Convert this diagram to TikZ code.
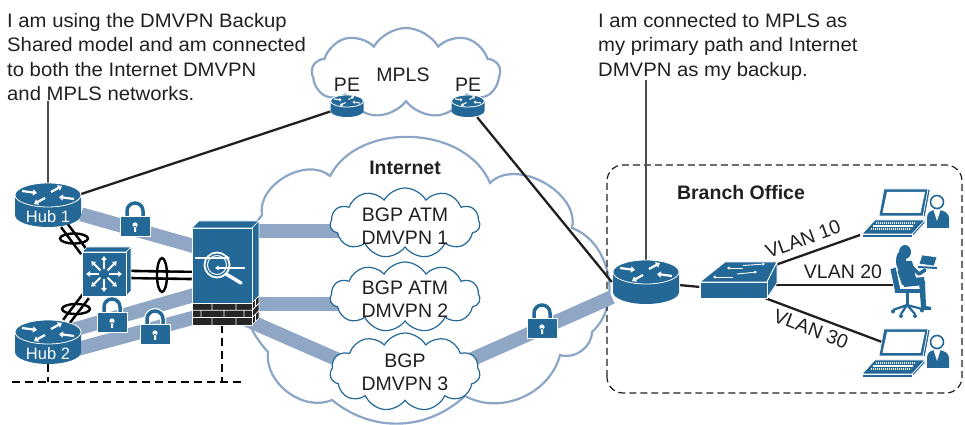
\documentclass[tikz,border=0pt]{standalone}
\usepackage{fontspec}
\setmainfont{Liberation Sans}
\newfontfamily\notefont[FakeStretch=1.04]{Liberation Sans}
\usetikzlibrary{shapes.symbols,arrows.meta,calc}
\definecolor{ciscoblue}{RGB}{35,104,150}
\definecolor{tunnelblue}{RGB}{143,167,197}
\definecolor{cloudedge}{RGB}{139,166,198}
\definecolor{inkgray}{RGB}{35,31,32}

\tikzset{
  dev/.style 2 args={inner sep=0pt,minimum width=#1pt,minimum height=#2pt},
  rarrow/.style={white,line width=2.2pt,-{Triangle[length=4pt,width=6pt]}},
  router/.pic={
    \fill[ciscoblue] (-33,10) -- (-33,-10) arc[start angle=180,end angle=360,x radius=33,y radius=12] -- (33,10) -- cycle;
    \filldraw[fill=ciscoblue,draw=white,line width=.8pt] (0,10) ellipse[x radius=33,y radius=12];
    \draw[rarrow] (-26,14) -- (-11,12);
    \draw[rarrow] (26,6) -- (11,8);
    \draw[rarrow] (3,13) -- (14,19);
    \draw[rarrow] (-3,7) -- (-14,1);
  },
  l3switch/.pic={
    \filldraw[fill=ciscoblue,draw=white,line width=.7pt] (-22,22) -- (-17,27) -- (27,27) -- (22,22) -- cycle;
    \filldraw[fill=ciscoblue,draw=white,line width=.7pt] (22,22) -- (27,27) -- (27,-17) -- (22,-22) -- cycle;
    \filldraw[fill=ciscoblue,draw=white,line width=.7pt] (-22,-22) rectangle (22,22);
    \foreach \a in {0,45,...,315}
      \draw[white,line width=2pt,-{Triangle[length=4pt,width=5.5pt]}] (\a:5) -- (\a:18);
  },
  ips/.pic={
    \filldraw[fill=ciscoblue,draw=white,line width=.7pt] (-30,48) -- (-23,55) -- (37,55) -- (30,48) -- cycle;
    \filldraw[fill=ciscoblue,draw=white,line width=.7pt] (30,48) -- (37,55) -- (37,-20) -- (30,-27) -- cycle;
    \filldraw[fill=black!85,draw=white,line width=.7pt] (30,-27) -- (37,-20) -- (37,-42) -- (30,-49) -- cycle;
    \filldraw[fill=ciscoblue,draw=white,line width=.7pt] (-30,-27) rectangle (30,48);
    \filldraw[fill=black!85,draw=white,line width=.7pt] (-30,-49) rectangle (30,-27);
    \draw[white,line width=.8pt] (-30,-34.3) -- (30,-34.3) (-30,-41.6) -- (30,-41.6)
      (-10,-27) -- (-10,-34.3) (14,-27) -- (14,-34.3)
      (-21,-34.3) -- (-21,-41.6) (2,-34.3) -- (2,-41.6) (22,-34.3) -- (22,-41.6)
      (-10,-41.6) -- (-10,-49) (14,-41.6) -- (14,-49)
      (30,-34.3) -- (37,-27.3) (30,-41.6) -- (37,-34.6)
      (33.5,-23.5) -- (33.5,-30.8) (33.5,-38.1) -- (33.5,-45.4);
    \draw[white,line width=1.4pt,-{Triangle[length=3.5pt,width=4.5pt]}] (-27,18) -- (8,18);
    \draw[white,line width=1.4pt,-{Triangle[length=3.5pt,width=4.5pt]}] (23,8) -- (-7,8);
    \draw[white,line width=3.5pt,line cap=round] (4,2) -- (19,-7);
    \draw[white,line width=1.8pt] (-5,11) circle[radius=12.5];
    \draw[white,line width=1pt] (-5,11) circle[radius=9.5];
  },
  lanswitch/.pic={
    \filldraw[fill=ciscoblue,draw=white,line width=.7pt] (-33,8) -- (-8,28) -- (44,28) -- (34,8) -- cycle;
    \filldraw[fill=ciscoblue,draw=white,line width=.7pt] (34,8) -- (44,28) -- (44,7) -- (34,-8) -- cycle;
    \filldraw[fill=ciscoblue,draw=white,line width=.7pt] (-33,-8) rectangle (34,8);
    \begin{scope}[white,line width=.9pt,-{Triangle[length=2.5pt,width=3pt]}]
      \draw (10,22) -- (-6,22);
      \draw (10,24.5) -- (32,26);
      \draw (0,13) -- (-20,13);
      \draw (4,16) -- (24,18);
    \end{scope}
  },
  padlock/.pic={
    \draw[white,line width=6pt] (-8,9) -- (-8,16) arc[start angle=180,end angle=0,radius=8] -- (8,9);
    \draw[ciscoblue,line width=3.5pt] (-8,9) -- (-8,16) arc[start angle=180,end angle=0,radius=8] -- (8,9);
    \filldraw[fill=ciscoblue,draw=white,line width=1pt] (-15,-10) rectangle (15,10);
    \fill[white] (0,2) circle[radius=2.6] (-1,-5) rectangle (1,1);
  },
  laptop/.pic={
    \filldraw[fill=ciscoblue,draw=white,line width=.6pt] (28,28) -- (30,27) -- (25,0) -- (23,1) -- cycle;
    \filldraw[fill=ciscoblue,draw=white,line width=.6pt] (-16,28) -- (28,28) -- (23,1) -- (-21,1) -- cycle;
    \fill[white] (-13,25) -- (25,25) -- (20.5,4) -- (-17.5,4) -- cycle;
    \filldraw[fill=ciscoblue,draw=white,line width=.6pt] (25,-3) -- (25,-6) -- (12,-20) -- (12,-17) -- cycle;
    \filldraw[fill=ciscoblue,draw=white,line width=.6pt] (-38,-17) -- (12,-17) -- (12,-20) -- (-38,-20) -- cycle;
    \filldraw[fill=ciscoblue,draw=white,line width=.6pt] (-25,-3) -- (25,-3) -- (12,-17) -- (-38,-17) -- cycle;
    \foreach \k in {-6,-9,-12}
      \draw[white,line width=1.6pt,dash pattern=on 1.2pt off .8pt] ({-21+(\k+3)*13/14},\k) -- ({19+(\k+3)*13/14},\k);
    % user next to the laptop
    \fill[ciscoblue] (27,-11) -- (27,-1) .. controls (27,4) and (30,6) .. (34,7) -- (40,7) .. controls (44,6) and (49,4) .. (49,-1) -- (49,-11) -- cycle;
    \fill[white] (33.5,7) -- (40.5,7) -- (37,-4) -- cycle;
    \filldraw[fill=white,draw=ciscoblue,line width=1.6pt] (37,15) circle[radius=6.5];
  },
  seated/.pic={
    \fill[ciscoblue] (-5,31) ellipse[x radius=6,y radius=7];
    \fill[ciscoblue] (-9,22) ellipse[x radius=5,y radius=10];
    \fill[ciscoblue] (-11,22) -- (2,22) -- (6,5) -- (1,-2) -- (-8,-2) -- (-12,10) -- cycle;
    \draw[ciscoblue,line width=3.5pt,line join=round,line cap=round] (0,18) -- (9,9) -- (15,13);
    \filldraw[fill=ciscoblue,draw=white,line width=.6pt] (12,28) -- (27,26) -- (24,17) -- (9,19) -- cycle;
    \draw[ciscoblue,line width=2pt] (8,16) -- (27,15);
    \fill[ciscoblue] (-8,4) -- (14,6) -- (15,-2) -- (-6,-4) -- cycle;
    \fill[ciscoblue] (9,2) -- (15,2) -- (16,-24) -- (11,-24) -- cycle;
    \fill[ciscoblue] (11,-22) -- (21,-24) -- (21,-27) -- (11,-27) -- cycle;
    \filldraw[fill=ciscoblue,draw=white,line width=.6pt] (-20,14) -- (-14,16) -- (-9,-8) -- (-15,-10) -- cycle;
    \fill[ciscoblue] (-15,-6) rectangle (10,-10);
    \draw[ciscoblue,line width=3pt] (-3,-10) -- (-3,-22);
    \draw[ciscoblue,line width=2.2pt] (-3,-22) -- (-17,-27) (-3,-22) -- (12,-26) (-3,-22) -- (-9,-31) (-3,-22) -- (5,-31);
    \foreach \wx/\wy in {-17/-28.5,12/-27.5,-9/-33,5/-33}
      \fill[ciscoblue] (\wx,\wy) circle[radius=2];
  }
}

\begin{document}
\begin{tikzpicture}[x=1pt,y=1pt,
    tunnel/.style={tunnelblue,line width=14pt},
    wire/.style={inkgray,line width=2.3pt},
    leader/.style={black!70,line width=1.1pt},
    chan/.style={black,line width=2.6pt,double=white,double distance=4.5pt},
    bundle/.style={black,line width=2.4pt},
    wanbus/.style={black,line width=2.4pt,dash pattern=on 8pt off 5pt},
    subnet/.style={cloud,cloud puffs=11,cloud puff arc=120,cloud ignores aspect,draw=ciscoblue,line width=1.2pt,fill=white,inner sep=0pt},
    txt/.style={text=inkgray,font=\fontsize{19.5}{23}\selectfont,inner sep=0pt},
    note/.style={text=inkgray,font=\notefont\fontsize{19.5}{24.4}\selectfont,inner sep=0pt,anchor=north west,align=left},
    head/.style={text=inkgray,font=\fontsize{19.5}{23}\selectfont\bfseries,inner sep=0pt},
    hubname/.style={text=white,font=\fontsize{16.5}{17}\selectfont,inner sep=0pt}]
  \useasboundingbox (0,0) rectangle (965,425);

  \node[note] (note1) at (7,412)
    {I am using the DMVPN Backup\\Shared model and am connected\\to both the Internet DMVPN\\and MPLS networks.};
  \node[note] (note2) at (598,412)
    {I am connected to MPLS as\\my primary path and Internet\\DMVPN as my backup.};

  \node[dev={66}{44}] (hub1) at (48,220) {};
  \node[dev={66}{44}] (hub2) at (48,83) {};
  \node[dev={44}{44}] (l3sw) at (104,151) {};
  \node[dev={60}{97}] (fw) at (222,149) {};
  \node[dev={33}{22}] (pe1) at (347,319) {};
  \node[dev={33}{22}] (pe2) at (468,319) {};
  \node[dev={68}{44}] (br) at (646,143) {};
  \node[dev={67}{16}] (sw) at (733,135) {};
  \node[dev={50}{50}] (pc1) at (900,208) {};
  \node[dev={50}{50}] (pc3) at (900,68) {};
  \node[dev={40}{70}] (user) at (910,142) {};
  \coordinate (dm1) at (405,202);
  \coordinate (dm2) at (405,128);
  \coordinate (dm3) at (405,53);

  % Internet cloud
  \draw[cloudedge,line width=2.2pt,fill=white] (268,73) to[bend left=40] (262,210) to[bend left=70] (330,249)
    to[bend left=65] (490,242) to[bend left=74] (572,197) to[bend left=59] (592,93) to[bend left=53] (560,70)
    to[bend left=52] (465,29) to[bend left=41] (332,25) to[bend left=60] (268,73) -- cycle;
  \node[cloud,cloud puffs=9,cloud puff arc=120,cloud ignores aspect,draw=cloudedge,line width=2.2pt,fill=white,
    minimum width=188pt,minimum height=90pt] (mpls) at (406,352) {};

  \draw[inkgray,line width=1.2pt,dash pattern=on 7pt off 4pt,rounded corners=16pt] (607,32) rectangle (962,260);

  \coordinate (busw) at (12,43);
  \coordinate (buse) at (245,43);
  \draw[wanbus] (busw) -- (buse);
  \draw[wanbus] (hub2.south) -- (hub2.south |- busw);
  \draw[wanbus] (fw.south) -- (fw.south |- busw);

  \draw[leader] (hub1 |- note1.south) -- (hub1.north);
  \draw[leader] (br |- note2.south) -- (br.north);
  \draw[wire] (hub1) -- (pe1);
  \draw[wire] (pe2) -- (br.west);
  \draw[wire] (br) -- (sw);
  \draw[wire] ($(sw)+(0,10)$) -- ($(pc1)+(-40,-18)$);
  \draw[wire] ($(sw)+(0,5)$) -- ($(user)+(-13,-2)$);
  \draw[wire] ($(sw)+(0,4)$) -- ($(pc3)+(-18,15)$);

  \draw[tunnel] (hub1) -- ($(fw)+(0,22)$);
  \draw[tunnel] ($(hub2)+(0,5)$) -- ($(fw)+(0,-11)$);
  \draw[tunnel] ($(hub2)+(0,-15)$) -- ($(fw)+(0,-34)$);
  \draw[tunnel] ($(fw)+(0,45)$) -- ($(dm1)+(0,-8)$);
  \draw[tunnel] ($(fw)+(0,-28)$) -- ($(dm2)+(0,-7)$);
  \draw[tunnel] ($(fw)+(0,-33)$) -- ($(dm3)+(0,-17)$);
  \draw[tunnel] ($(dm3)+(0,-17)$) -- (br);

  \node[subnet,minimum width=150pt,minimum height=70pt] (cloud1) at (dm1) {};
  \node[subnet,minimum width=150pt,minimum height=70pt] (cloud2) at (dm2) {};
  \node[subnet,minimum width=150pt,minimum height=78pt] (cloud3) at (dm3) {};
  \node[txt,align=center] (cloud1text) at ($(dm1)+(0,-3)$) {BGP ATM\\DMVPN 1};
  \node[txt,align=center] (cloud2text) at ($(dm2)+(0,-2)$) {BGP ATM\\DMVPN 2};
  \node[txt,align=center] (cloud3text) at (dm3) {BGP\\DMVPN 3};

  \draw[chan] ($(hub1)+(16,-20)$) coordinate (up1) -- ($(l3sw)+(-20,22)$) coordinate (up2);
  \draw[bundle] ($(up1)!.5!(up2)$) ellipse[x radius=14,y radius=5];
  \draw[chan] ($(hub2)+(18,20)$) coordinate (dn1) -- ($(l3sw)+(-18,-22)$) coordinate (dn2);
  \draw[bundle] ($(dn1)!.5!(dn2)$) ellipse[x radius=14,y radius=5];
  \draw[chan] (l3sw) -- (fw);
  \draw[bundle] (162,150) ellipse[x radius=5,y radius=17];

  \pic at (hub1) {router};
  \pic at (hub2) {router};
  \pic[scale=.5,rarrow/.style={white,line width=1.1pt,-{Triangle[length=2.2pt,width=3.2pt]}}] at (pe1) {router};
  \pic[scale=.5,rarrow/.style={white,line width=1.1pt,-{Triangle[length=2.2pt,width=3.2pt]}}] at (pe2) {router};
  \pic at (br) {router};
  \pic at (l3sw) {l3switch};
  \pic at (fw) {ips};
  \pic at (sw) {lanswitch};
  \pic at (pc1) {laptop};
  \pic at (pc3) {laptop};
  \pic at (user) {seated};
  \pic at (135,198) {padlock};
  \pic at (112,102) {padlock};
  \pic at (155,90) {padlock};
  \pic at (542,96) {padlock};

  \node[hubname] (hub1name) at ($(hub1)+(0,-12)$) {Hub 1};
  \node[hubname] (hub2name) at ($(hub2)+(0,-12)$) {Hub 2};
  \node[head] (inetname) at (405,257) {Internet};
  \node[txt] (mplsname) at (403,350) {MPLS};
  \node[txt] (pe1name) at (347,340) {PE};
  \node[txt] (pe2name) at (468,340) {PE};
  \node[head] (branchname) at (741,232) {Branch Office};
  \node[txt,rotate=20] (vlan10) at (803,186) {VLAN 10};
  \node[txt] (vlan20) at (843,153) {VLAN 20};
  \node[txt,rotate=-21] (vlan30) at (811,96) {VLAN 30};
\end{tikzpicture}
\end{document}
